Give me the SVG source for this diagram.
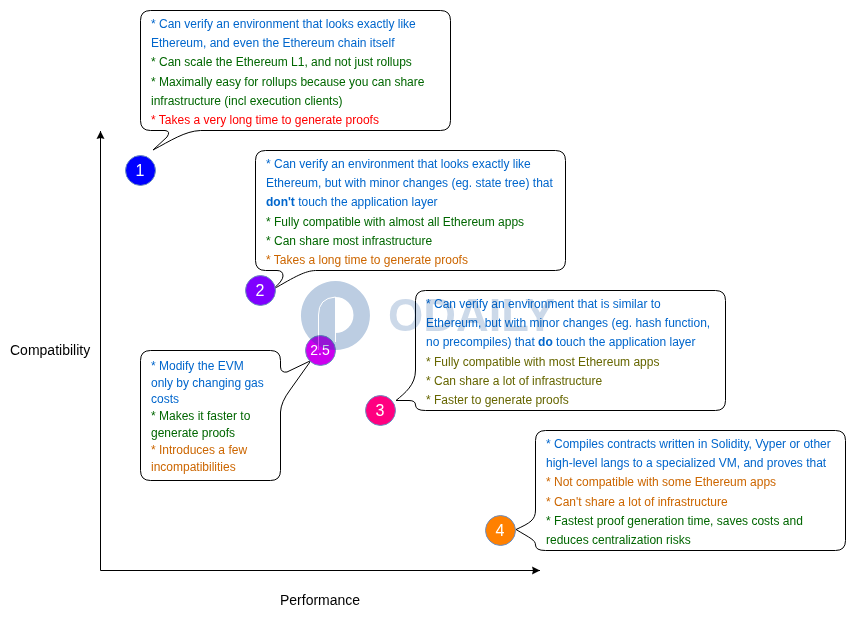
<svg xmlns="http://www.w3.org/2000/svg" width="856" height="631" viewBox="0 0 856 631">
<style>
text{font-family:"Liberation Sans",Arial,sans-serif}
.t{font-size:12px}
.b{fill:#0066cc}.g{fill:#006600}.r{fill:#ff0000}.o{fill:#cc6600}.l{fill:#666600}
.c{fill:none;stroke:#000;stroke-width:1}
.bub{fill:#fff;stroke:#000;stroke-width:1}
.nt{font-size:16px;fill:#fff;text-anchor:middle}
.ax{font-size:14px;fill:#000}
</style>
<defs>
<marker id="a" markerWidth="9" markerHeight="9" refX="8" refY="4" orient="auto" markerUnits="userSpaceOnUse" overflow="visible"><path d="M0 0L8 4L0 8L1 4Z" fill="#000"/></marker>
<filter id="soft" x="-5%" y="-5%" width="110%" height="110%"><feGaussianBlur stdDeviation="0.6"/></filter>
</defs>
<g id="page" opacity="0.999">
<g id="connectors">
<path class="c" d="M100.500 570.500V131" marker-end="url(#a)"/>
<path class="c" d="M100.500 570.500H540" marker-end="url(#a)"/>
</g>
<g id="labels"><text class="ax" x="10" y="355">Compatibility</text><text class="ax" x="280" y="605">Performance</text></g>
<g id="node-1">
<path class="bub" d="M150.500 10.500H440.500Q450.500 10.500 450.500 20.500V120.500Q450.500 130.500 440.500 130.500H200.500C185 131 170 141 153 150L167 137Q171 131 165 130.500H150.500Q140.500 130.500 140.500 120.500V20.500Q140.500 10.500 150.500 10.500Z"/>
<text class="t b" x="151" y="28">* Can verify an environment that looks exactly like</text>
<text class="t b" x="151" y="47">Ethereum, and even the Ethereum chain itself</text>
<text class="t g" x="151" y="66">* Can scale the Ethereum L1, and not just rollups</text>
<text class="t g" x="151" y="86">* Maximally easy for rollups because you can share</text>
<text class="t g" x="151" y="105">infrastructure (incl execution clients)</text>
<text class="t r" x="151" y="124">* Takes a very long time to generate proofs</text>
<circle cx="140.500" cy="170.500" r="15" fill="#0000ff" stroke="#6c8ebf"/><text class="nt" x="140" y="176">1</text>
</g>
<g id="node-2">
<path class="bub" d="M265.500 150.500H555.500Q565.500 150.500 565.500 160.500V260.500Q565.500 270.500 555.500 270.500H315.500C305 271 296 276 272 290Q283 281 283 276Q283 270.500 277 270.500H265.500Q255.500 270.500 255.500 260.500V160.500Q255.500 150.500 265.500 150.500Z"/>
<text class="t b" x="266" y="168">* Can verify an environment that looks exactly like</text>
<text class="t b" x="266" y="187">Ethereum, but with minor changes (eg. state tree) that</text>
<text class="t b" x="266" y="206"><tspan font-weight="bold">don't</tspan> touch the application layer</text>
<text class="t g" x="266" y="226">* Fully compatible with almost all Ethereum apps</text>
<text class="t g" x="266" y="245">* Can share most infrastructure</text>
<text class="t o" x="266" y="264">* Takes a long time to generate proofs</text>
<circle cx="260.500" cy="290.500" r="15" fill="#7f00ff" stroke="#6c8ebf"/><text class="nt" x="260" y="296">2</text>
</g>
<g id="node-25">
<path class="bub" d="M150.500 350.500H270.500Q280.500 350.500 280.500 360.500V367Q281 373 287 372L311 360.500L290 390Q281 402 280.500 412V470.500Q280.500 480.500 270.500 480.500H150.500Q140.500 480.500 140.500 470.500V360.500Q140.500 350.500 150.500 350.500Z"/>
<text class="t b" x="151" y="370">* Modify the EVM</text>
<text class="t b" x="151" y="387">only by changing gas</text>
<text class="t b" x="151" y="403">costs</text>
<text class="t g" x="151" y="420">* Makes it faster to</text>
<text class="t g" x="151" y="437">generate proofs</text>
<text class="t o" x="151" y="454">* Introduces a few</text>
<text class="t o" x="151" y="471">incompatibilities</text>
<circle cx="320.500" cy="350.500" r="15" fill="#cc00ee" stroke="#6c8ebf"/><text class="nt" x="320" y="355" style="font-size:14px">2.5</text>
</g>
<g id="node-3">
<path class="bub" d="M425.500 290.500H715.500Q725.500 290.500 725.500 300.500V400.500Q725.500 410.500 715.500 410.500H425.500Q415.500 410.500 415.500 405Q415.500 400.500 409 400.500H396C405 393 415.500 385 415.500 370V300.500Q415.500 290.500 425.500 290.500Z"/>
<text class="t b" x="426" y="308">* Can verify an environment that is similar to</text>
<text class="t b" x="426" y="327">Ethereum, but with minor changes (eg. hash function,</text>
<text class="t b" x="426" y="346">no precompiles) that <tspan font-weight="bold">do</tspan> touch the application layer</text>
<text class="t l" x="426" y="366">* Fully compatible with most Ethereum apps</text>
<text class="t l" x="426" y="385">* Can share a lot of infrastructure</text>
<text class="t l" x="426" y="404">* Faster to generate proofs</text>
<circle cx="380.500" cy="410.500" r="15" fill="#ff0080" stroke="#6c8ebf"/><text class="nt" x="380" y="416">3</text>
</g>
<g id="node-4">
<path class="bub" d="M545.500 430.500H835.500Q845.500 430.500 845.500 440.500V540.500Q845.500 550.500 835.500 550.500H545.500Q535.500 550.500 535.500 545C535.500 540 530 538 516 529.500C530 523 535.500 520 535.500 510V440.500Q535.500 430.500 545.500 430.500Z"/>
<text class="t b" x="546" y="448">* Compiles contracts written in Solidity, Vyper or other</text>
<text class="t b" x="546" y="467">high-level langs to a specialized VM, and proves that</text>
<text class="t o" x="546" y="486">* Not compatible with some Ethereum apps</text>
<text class="t o" x="546" y="506">* Can't share a lot of infrastructure</text>
<text class="t g" x="546" y="525">* Fastest proof generation time, saves costs and</text>
<text class="t g" x="546" y="544">reduces centralization risks</text>
<circle cx="500.500" cy="530.500" r="15" fill="#ff8000" stroke="#6c8ebf"/><text class="nt" x="500" y="536">4</text>
</g>
<g id="watermark" opacity="0.28">
<path fill="#0f4c97" fill-rule="evenodd" d="M335.500 281a34.500 34.500 0 1 1-.1 0ZM335.500 297V333A18 18 0 0 0 335.500 297Z"/>
<path fill="none" stroke="#fff" stroke-width="1" d="M318.500 350V315Q318.500 298 335.500 297V342"/>
<text x="388" y="331" font-size="47" font-weight="bold" fill="#0f4c97" opacity="0.75" textLength="167" lengthAdjust="spacingAndGlyphs" filter="url(#soft)">ODAILY</text>
</g>
</g>
</svg>
